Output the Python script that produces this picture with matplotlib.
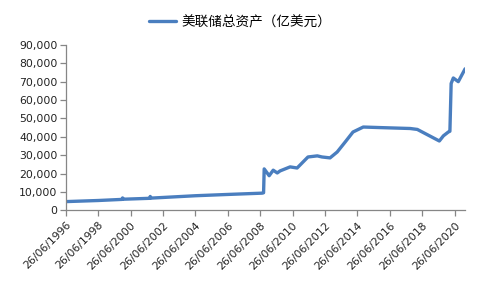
import matplotlib
matplotlib.use("Agg")
import matplotlib.pyplot as plt
import matplotlib.transforms as mtransforms
from matplotlib.ticker import FuncFormatter
import pandas as pd

plt.rcParams['font.family'] = ['Noto Sans CJK SC', 'DejaVu Sans']

dates = ['1996-06-26', '1998-06-26', '1999-12-15', '1999-12-29', '2000-01-12',
         '2001-09-05', '2001-09-12', '2001-09-26', '2004-06-30', '2006-06-28',
         '2008-08-06', '2008-09-10', '2008-09-24', '2009-01-14', '2009-04-15',
         '2009-07-15', '2009-09-16', '2010-05-01', '2010-10-06', '2011-06-08',
         '2012-01-04', '2012-04-18', '2012-10-17', '2013-03-27', '2013-09-25',
         '2014-03-19', '2014-11-05', '2015-11-18', '2017-09-27', '2018-03-07',
         '2019-07-17', '2019-10-16', '2020-02-05', '2020-03-11', '2020-04-08',
         '2020-05-27', '2020-09-16', '2021-02-17']
values = [4700, 5300, 5900, 6700, 6000,
          6500, 7500, 6600, 7900, 8600,
          9300, 9500, 22500, 18800, 21800,
          20300, 21400, 23600, 23000, 29000,
          29600, 29000, 28500, 31700, 37200,
          42600, 45300, 45000, 44500, 44000,
          37700, 40500, 42600, 43000, 69000,
          72000, 70000, 77000]

tick_years = list(range(1996, 2021, 2))
tick_labels = [f"26/06/{y}" for y in tick_years]
series_name = "美联储总资产（亿美元）"
y_ticks = list(range(0, 90001, 10000))

x = pd.to_datetime(dates)

fig = plt.figure(figsize=(4.8, 2.88), dpi=100)
ax = fig.add_axes([0.137, 0.270, 0.832, 0.574])
ax.plot(x, values, color='#4A7EBF', linewidth=2.4, solid_joinstyle='round',
        solid_capstyle='round', label=series_name)

ax.set_ylim(0, 90000)
ax.set_yticks(y_ticks)
ax.yaxis.set_major_formatter(FuncFormatter(lambda v, p: f"{int(v):,}"))
ax.set_xlim(pd.Timestamp('1996-06-26'), pd.Timestamp('2021-02-17'))
ax.set_xticks(pd.to_datetime([f"{y}-06-26" for y in tick_years]))
ax.set_xticklabels(tick_labels, rotation=45, ha='right', va='top', rotation_mode='anchor',
                   fontsize=7.8, family='DejaVu Sans')
offset = mtransforms.ScaledTranslation(0.06, -0.09, fig.dpi_scale_trans)
for lab in ax.get_xticklabels():
    lab.set_transform(lab.get_transform() + offset)
for lab in ax.get_yticklabels():
    lab.set_fontsize(7.8)
    lab.set_family('DejaVu Sans')

for s in ['top', 'right']:
    ax.spines[s].set_visible(False)
for s in ['left', 'bottom']:
    ax.spines[s].set_color('#868686')
    ax.spines[s].set_linewidth(0.9)
ax.tick_params(axis='both', colors='#868686', length=4, width=0.9, labelcolor='#222222')
ax.tick_params(axis='y', pad=2)
ax.tick_params(axis='x', pad=3)

fig.legend(loc='upper center', bbox_to_anchor=(0.5, 0.99), frameon=False,
           fontsize=9.8, handlelength=2.0, handletextpad=0.4)

fig.savefig('out.png', dpi=100)
